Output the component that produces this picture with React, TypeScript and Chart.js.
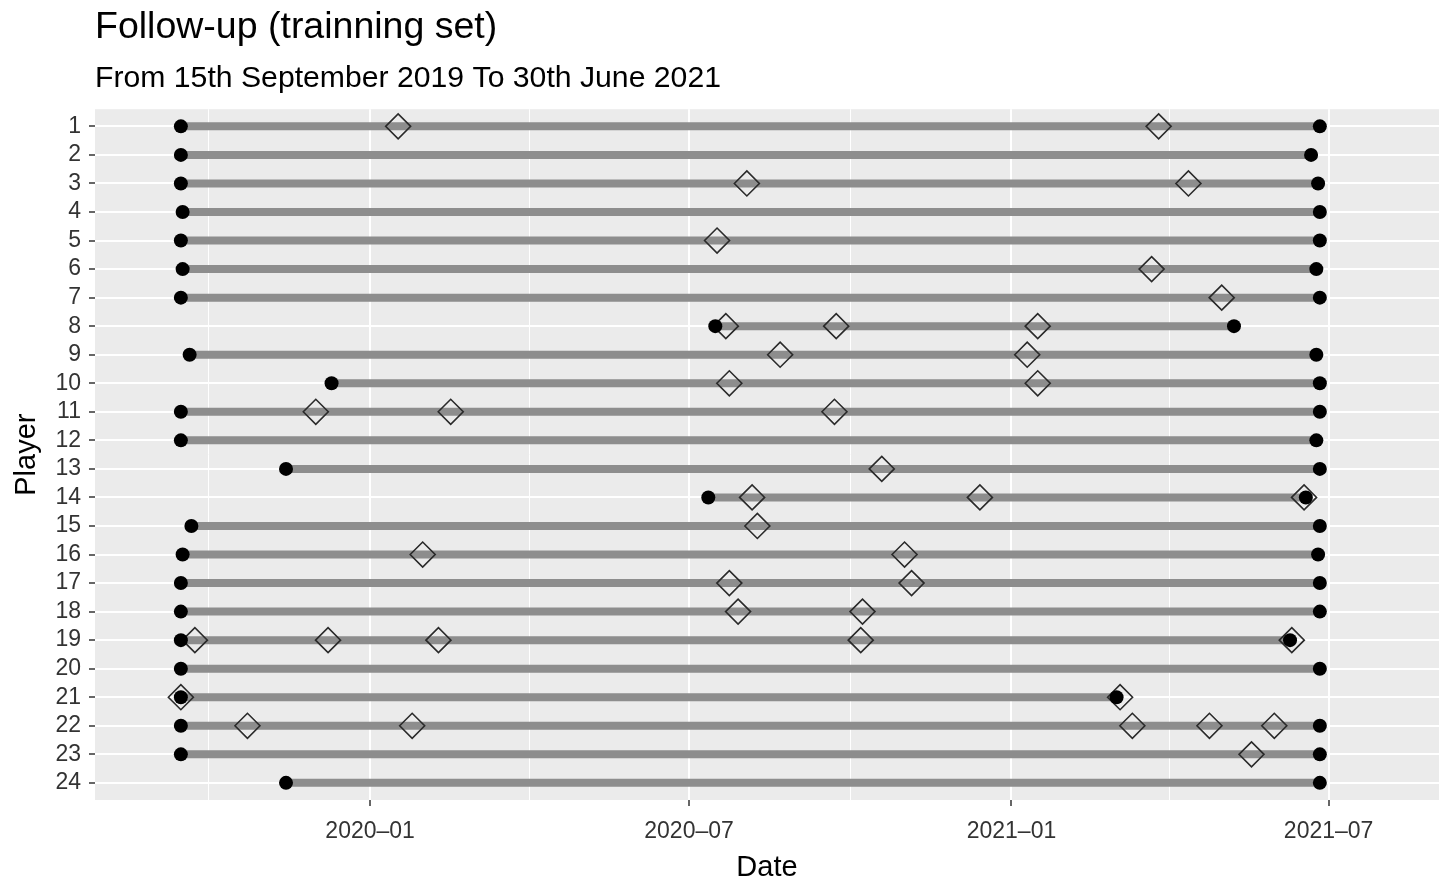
import React, { useEffect, useRef } from 'react';
import { Chart, registerables } from 'chart.js';

Chart.register(...registerables);

const players = ['1', '2', '3', '4', '5', '6', '7', '8', '9', '10', '11', '12', '13', '14', '15', '16', '17', '18', '19', '20', '21', '22', '23', '24'];

const startDates = [
  '2019-09-15', '2019-09-15', '2019-09-15', '2019-09-16', '2019-09-15', '2019-09-16',
  '2019-09-15', '2020-07-16', '2019-09-20', '2019-12-10', '2019-09-15', '2019-09-15',
  '2019-11-14', '2020-07-12', '2019-09-21', '2019-09-16', '2019-09-15', '2019-09-15',
  '2019-09-15', '2019-09-15', '2019-09-15', '2019-09-15', '2019-09-15', '2019-11-14',
];

const endDates = [
  '2021-06-26', '2021-06-21', '2021-06-25', '2021-06-26', '2021-06-26', '2021-06-24',
  '2021-06-26', '2021-05-08', '2021-06-24', '2021-06-26', '2021-06-26', '2021-06-24',
  '2021-06-26', '2021-06-18', '2021-06-26', '2021-06-25', '2021-06-26', '2021-06-26',
  '2021-06-09', '2021-06-26', '2021-03-02', '2021-06-26', '2021-06-26', '2021-06-26',
];

const eventPlayers = [
  1, 1,
  3, 3,
  5,
  6,
  7,
  8, 8, 8,
  9, 9,
  10, 10,
  11, 11, 11,
  13,
  14, 14, 14,
  15,
  16, 16,
  17, 17,
  18, 18,
  19, 19, 19, 19, 19,
  21, 21,
  22, 22, 22, 22, 22,
  23,
];

const eventDates = [
  '2020-01-17', '2021-03-26',
  '2020-08-03', '2021-04-12',
  '2020-07-17',
  '2021-03-22',
  '2021-05-01',
  '2020-07-22', '2020-09-23', '2021-01-16',
  '2020-08-22', '2021-01-10',
  '2020-07-24', '2021-01-16',
  '2019-12-01', '2020-02-16', '2020-09-22',
  '2020-10-19',
  '2020-08-06', '2020-12-14', '2021-06-17',
  '2020-08-09',
  '2020-01-31', '2020-11-01',
  '2020-07-24', '2020-11-05',
  '2020-07-29', '2020-10-08',
  '2019-09-23', '2019-12-08', '2020-02-09', '2020-10-07', '2021-06-10',
  '2019-09-15', '2021-03-04',
  '2019-10-23', '2020-01-25', '2021-03-11', '2021-04-24', '2021-05-31',
  '2021-05-18',
];

const majorTickDates = ['2020-01-01', '2020-07-01', '2021-01-01', '2021-07-01'];
const majorTickLabels = ['2020–01', '2020–07', '2021–01', '2021–07'];
const minorTickDates = ['2019-10-01', '2020-04-01', '2020-10-01', '2021-04-01'];
const xRange = ['2019-07-28', '2021-09-02'];

const titleText = 'Follow-up (trainning set)';
const subtitleText = 'From 15th September 2019 To 30th June 2021';

const toDay = (s: string): number => {
  const [y, m, d] = s.split('-').map(Number);
  return (Date.UTC(y, m - 1, d) - Date.UTC(2020, 0, 1)) / 86400000;
};

const FONT = "'Liberation Sans', Arial, Helvetica, sans-serif";

const panelBg = {
  id: 'panelBg',
  beforeDraw(chart: any) {
    const { ctx, chartArea } = chart;
    if (!chartArea) return;
    ctx.save();
    ctx.fillStyle = '#ebebeb';
    ctx.fillRect(chartArea.left, chartArea.top, chartArea.right - chartArea.left, chartArea.bottom - chartArea.top);
    ctx.restore();
  },
};

export default function App() {
  const canvasRef = useRef<HTMLCanvasElement | null>(null);

  useEffect(() => {
    if (!canvasRef.current) return;
    Chart.defaults.font.family = FONT;

    const majorDays = majorTickDates.map(toDay);
    const minorDays = minorTickDates.map(toDay);

    const lineDatasets = players.map((p, i) => ({
      type: 'line' as const,
      label: 'span ' + p,
      data: [
        { x: toDay(startDates[i]), y: i + 1 },
        { x: toDay(endDates[i]), y: i + 1 },
      ],
      showLine: true,
      borderColor: '#8d8d8d',
      borderWidth: 8,
      borderCapStyle: 'butt' as const,
      pointRadius: 0,
      order: 3,
    }));

    const dotData: { x: number; y: number }[] = [];
    players.forEach((_, i) => {
      dotData.push({ x: toDay(startDates[i]), y: i + 1 });
      dotData.push({ x: toDay(endDates[i]), y: i + 1 });
    });

    const eventData = eventDates.map((d, i) => ({ x: toDay(d), y: eventPlayers[i] }));

    const chart = new Chart(canvasRef.current, {
      type: 'scatter',
      data: {
        datasets: [
          {
            label: 'dots',
            data: dotData,
            pointStyle: 'circle',
            pointRadius: 7,
            backgroundColor: '#000000',
            borderColor: '#000000',
            borderWidth: 0,
            order: 0,
          },
          {
            label: 'events',
            data: eventData,
            pointStyle: 'rectRot',
            pointRadius: 12.5,
            backgroundColor: 'rgba(0,0,0,0)',
            borderColor: '#2a2a2a',
            borderWidth: 1.6,
            order: 1,
          },
          ...lineDatasets,
        ] as any,
      },
      options: {
        animation: false,
        responsive: false,
        layout: { autoPadding: false, padding: { top: 0, left: 0, right: 6, bottom: 0 } },
        plugins: {
          legend: { display: false },
          tooltip: { enabled: false },
          title: {
            display: true,
            text: titleText,
            align: 'start',
            fullSize: false,
            color: '#000000',
            font: { size: 37.5, weight: 'normal', family: FONT },
            padding: { top: 5, bottom: 5 },
          },
          subtitle: {
            display: true,
            text: subtitleText,
            align: 'start',
            fullSize: false,
            color: '#000000',
            font: { size: 30.2, weight: 'normal', family: FONT },
            padding: { top: 6, bottom: 12 },
          },
        },
        scales: {
          x: {
            type: 'linear',
            min: toDay(xRange[0]),
            max: toDay(xRange[1]),
            afterBuildTicks: (scale: any) => {
              scale.ticks = [...minorDays, ...majorDays]
                .sort((a, b) => a - b)
                .map((v) => ({ value: v }));
            },
            afterFit: (scale: any) => {
              scale.height = 84;
            },
            ticks: {
              autoSkip: false,
              maxRotation: 0,
              padding: 12,
              color: '#333333',
              font: { size: 23, family: FONT },
              callback: (value: any) => {
                const idx = majorDays.indexOf(Number(value));
                return idx >= 0 ? majorTickLabels[idx] : '';
              },
            },
            grid: {
              color: '#ffffff',
              lineWidth: (ctx: any) => (majorDays.includes(ctx.tick?.value) ? 2 : 1),
              tickColor: (ctx: any) => (majorDays.includes(ctx.tick?.value) ? '#333333' : 'rgba(0,0,0,0)'),
              tickLength: 6,
              tickWidth: 1.5,
              drawTicks: true,
            },
            border: { display: false },
            title: {
              display: true,
              text: 'Date',
              color: '#000000',
              font: { size: 29, family: FONT, lineHeight: 1.1 },
              padding: { top: 0, bottom: 0 },
            },
          },
          y: {
            type: 'linear',
            reverse: true,
            min: 0.4,
            max: 24.6,
            afterBuildTicks: (scale: any) => {
              scale.ticks = players.map((_, i) => ({ value: i + 1 }));
            },
            afterFit: (scale: any) => {
              scale.width = 95;
            },
            ticks: {
              autoSkip: false,
              padding: 8,
              color: '#333333',
              font: { size: 23, family: FONT },
              callback: (value: any) => players[Number(value) - 1] ?? '',
            },
            grid: {
              color: '#ffffff',
              lineWidth: 2,
              tickColor: '#333333',
              tickLength: 6,
              tickWidth: 1.5,
              drawTicks: true,
            },
            border: { display: false },
            title: {
              display: true,
              text: 'Player',
              color: '#000000',
              font: { size: 29, family: FONT },
              padding: { top: 10, bottom: 0 },
            },
          },
        },
      } as any,
      plugins: [panelBg],
    });

    return () => {
      chart.destroy();
    };
  }, []);

  return (
    <div
      style={{
        position: 'fixed',
        left: 0,
        top: 0,
        width: 1445,
        height: 884,
        background: '#ffffff',
      }}
    >
      <canvas ref={canvasRef} width={1445} height={884} style={{ width: 1445, height: 884, display: 'block' }} />
    </div>
  );
}
